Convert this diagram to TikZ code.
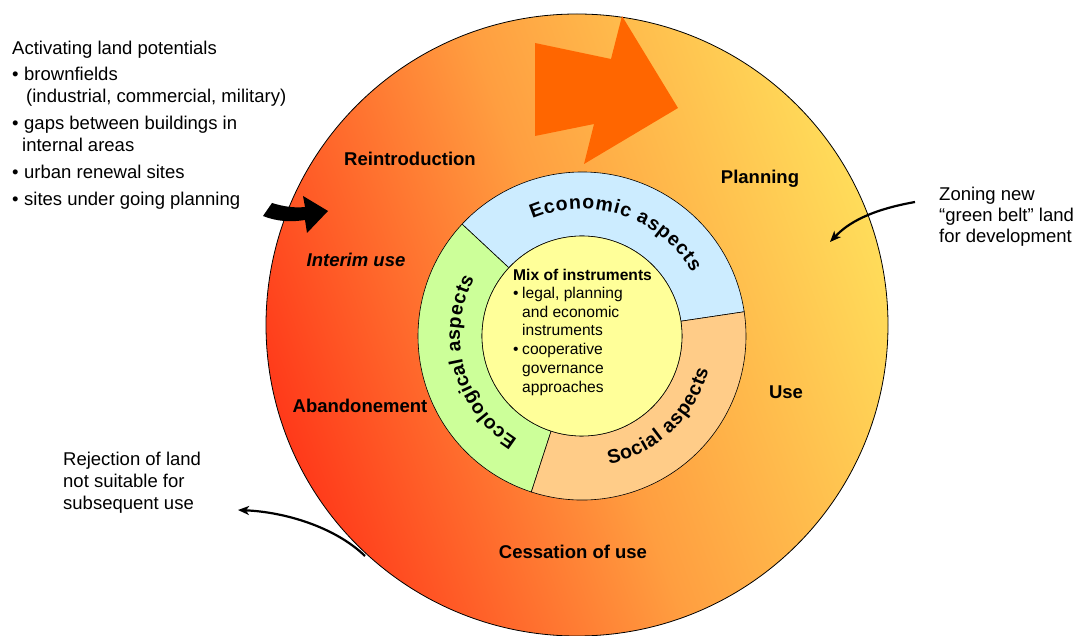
\documentclass[tikz,border=0pt]{standalone}
\usepackage{fontspec}
\setmainfont{Liberation Sans}
\usetikzlibrary{decorations.text,arrows.meta}
\definecolor{gradR}{HTML}{FF3A1A}
\definecolor{gradM}{HTML}{FF9E40}
\definecolor{gradY}{HTML}{FFDC5A}
\definecolor{econ}{HTML}{CCECFF}
\definecolor{ecol}{HTML}{CCFF99}
\definecolor{soc}{HTML}{FFCC88}
\definecolor{mixy}{HTML}{FFFF99}
\definecolor{bigarr}{HTML}{FF6600}
\pgfdeclarehorizontalshading{landgrad}{100bp}{color(0bp)=(gradR); color(25bp)=(gradR); color(50bp)=(gradM); color(75bp)=(gradY); color(100bp)=(gradY)}
\newcommand\ringfnt{\bfseries\fontsize{19.5}{19.5}\selectfont}
\begin{document}
\begin{tikzpicture}[x=1pt,y=1pt,
  txt/.style={inner sep=0, anchor=base west, font=\fontsize{18.5}{22}\selectfont},
  mixtxt/.style={inner sep=0, anchor=base west, font=\fontsize{15.6}{19}\selectfont},
  lbl/.style={inner sep=0, anchor=base, font=\bfseries\fontsize{18.5}{22}\selectfont},
  thinarrow/.style={line width=2.2pt, -{Stealth[length=11pt,width=9pt,inset=3pt]}},
  ringseg/.style={line width=0.6pt, draw=black},
  ringtext/.style={decorate, decoration={text along path, text align={fit to path}}}]
\useasboundingbox (0,0) rectangle (1077,635);
% outer circle
\shadedraw[shading=landgrad, shading angle=20, line width=0.8pt] (577,310) circle[radius=311];
% big orange arrow
\fill[bigarr] (535,592) -- (611,576) -- (622,619) -- (678,527) -- (584,471) -- (594,511) -- (535,499) -- cycle;
% inner ring
\coordinate (rc) at (582,299);
\filldraw[ringseg, fill=econ] ([shift={(8.5:164)}]rc) arc[start angle=8.5, end angle=137, radius=164] -- ([shift={(137:100)}]rc) arc[start angle=137, end angle=8.5, radius=100] -- cycle;
\filldraw[ringseg, fill=ecol] ([shift={(137:164)}]rc) arc[start angle=137, end angle=252, radius=164] -- ([shift={(252:100)}]rc) arc[start angle=252, end angle=137, radius=100] -- cycle;
\filldraw[ringseg, fill=soc] ([shift={(252:164)}]rc) arc[start angle=252, end angle=368.5, radius=164] -- ([shift={(368.5:100)}]rc) arc[start angle=368.5, end angle=252, radius=100] -- cycle;
\filldraw[ringseg, fill=mixy] (rc) circle[radius=100];
% curved ring texts
\path[ringtext, decoration={text={|\ringfnt|Economic aspects}}] ([shift={(113:127)}]rc) arc[start angle=113, end angle=30, radius=127];
\path[ringtext, decoration={text={|\ringfnt|Ecological aspects}}] ([shift={(238:122)}]rc) arc[start angle=238, end angle=152, radius=122];
\path[ringtext, decoration={text={|\ringfnt|Social aspects}}] ([shift={(-78:131)}]rc) arc[start angle=-78, end angle=-15, radius=131];
% center text
\node[mixtxt, font=\bfseries\fontsize{15.6}{19}\selectfont] (mix) at (513,354) {Mix of instruments};
\node[mixtxt] (mb1) at (513,336) {•};
\node[mixtxt] (legal) at (522,336) {legal, planning};
\node[mixtxt] (andec) at (522,317) {and economic};
\node[mixtxt] (instr) at (522,299) {instruments};
\node[mixtxt] (mb2) at (513,280) {•};
\node[mixtxt] (coop) at (522,280) {cooperative};
\node[mixtxt] (gov) at (522,261) {governance};
\node[mixtxt] (appr) at (522,242) {approaches};
% cycle labels
\node[lbl] (reintro) at (410,469) {Reintroduction};
\node[lbl] (plan) at (760,451) {Planning};
\node[lbl] (use) at (786,236) {Use};
\node[lbl, font=\bfseries\itshape\fontsize{18.5}{22}\selectfont] (interim) at (356,368) {Interim use};
\node[lbl] (aband) at (360,222) {Abandonement};
\node[lbl] (cess) at (573,76) {Cessation of use};
% left text block
\node[txt] (act) at (12,580) {Activating land potentials};
\node[txt] (lb1) at (12,554) {•};
\node[txt] (brown) at (24,554) {brownfields};
\node[txt] (indus) at (26,532) {(industrial, commercial, military)};
\node[txt] (lb2) at (12,505) {•};
\node[txt] (gaps) at (24,505) {gaps between buildings in};
\node[txt] (intern) at (22,483) {internal areas};
\node[txt] (lb3) at (12,456) {•};
\node[txt] (urban) at (24,456) {urban renewal sites};
\node[txt] (lb4) at (12,429) {•};
\node[txt] (sites) at (24,429) {sites under going planning};
% right text
\node[txt] (zon1) at (939,434) {Zoning new};
\node[txt] (zon2) at (939,413) {“green belt” land};
\node[txt] (zon3) at (939,392) {for development};
% bottom left text
\node[txt] (rej1) at (63,169) {Rejection of land};
\node[txt] (rej2) at (63,147) {not suitable for};
\node[txt] (rej3) at (63,125) {subsequent use};
% black block arrow
\fill[black] (272,432) .. controls (285,428) and (295,427) .. (305,428) -- (303,439) -- (328,424) -- (307,402) -- (305,415) .. controls (292,413) and (278,413) .. (263,419) -- cycle;
% thin arrows
\coordinate (zs) at (915,433);
\coordinate (ze) at (830,393);
\draw[thinarrow] (zs) .. controls (870,425) and (848,412) .. (ze);
\coordinate (rs) at (365,79);
\coordinate (re) at (238,125);
\draw[thinarrow] (rs) .. controls (335,108) and (285,123) .. (re);
\end{tikzpicture}
\end{document}
